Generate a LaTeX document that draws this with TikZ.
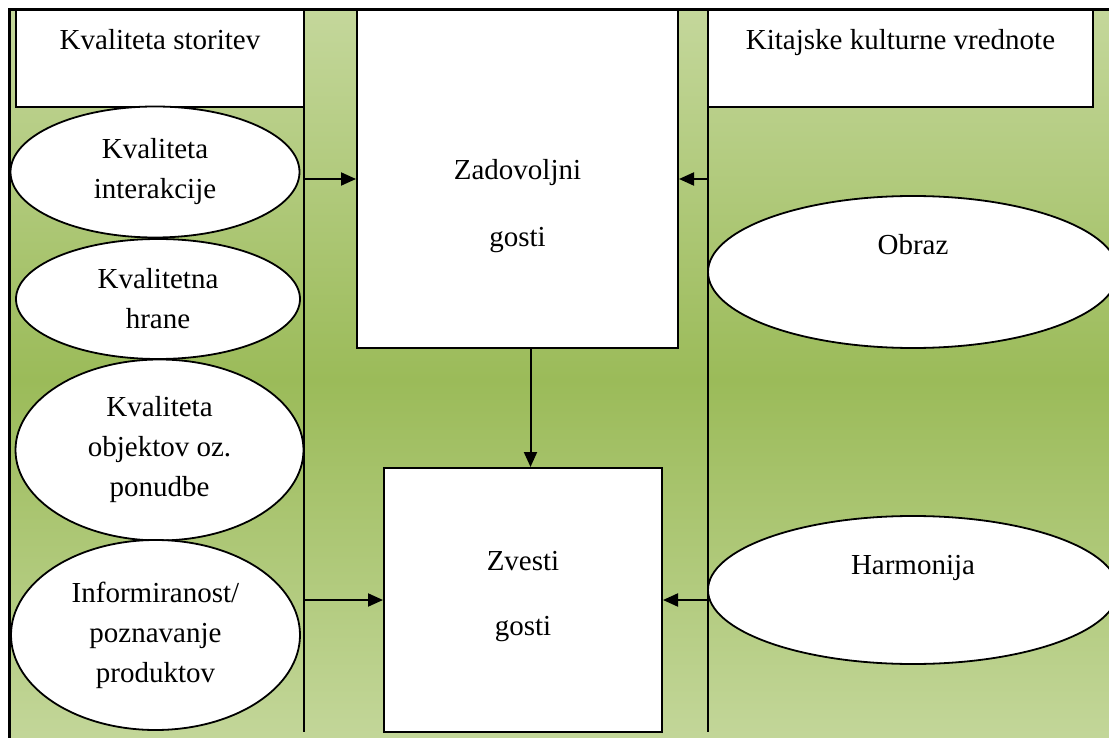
\documentclass[tikz,border=0pt]{standalone}
\usepackage{fontspec}
\setmainfont{Liberation Serif}
\usetikzlibrary{shapes.geometric,arrows.meta}
\definecolor{olivelight}{RGB}{196,215,155}
\definecolor{olivedark}{RGB}{155,187,89}
\begin{document}
\begin{tikzpicture}[x=1pt,y=-1pt,
	every node/.style={font=\fontsize{29}{40}\selectfont, align=center},
	kasten/.style={draw, fill=white, line width=2pt, rectangle, inner sep=0pt},
	oval/.style={draw, fill=white, line width=1.8pt, ellipse, inner sep=0pt},
	pfeil/.style={line width=2pt, -{Triangle[length=15pt,width=13pt]}}]
		\useasboundingbox (0,0) rectangle (1109,738);
		\clip (0,0) rectangle (1109,738);
		
		\draw[line width=3pt, top color=olivelight, bottom color=olivelight, middle color=olivedark] (9,10) rectangle (1120,750);
		
		\coordinate (ltop) at (304,10); \coordinate (lbot) at (304,732);
		\coordinate (rtop) at (708,10); \coordinate (rbot) at (708,732);
		\draw[line width=2pt] (ltop) -- (lbot);
		\draw[line width=2pt] (rtop) -- (rbot);
		
		\node[kasten, minimum width=288pt, minimum height=97pt, text height=20pt, text depth=37pt] (stor) at (160,58.5) {Kvaliteta storitev};
		\node[kasten, minimum width=385pt, minimum height=97pt, text height=20pt, text depth=37pt] (kit) at (900.5,58.5) {Kitajske kulturne vrednote};
		\node[kasten, minimum width=321pt, minimum height=338pt, text height=136pt, text depth=0pt] (zad) at (517.5,179) {Zadovoljni\\[27pt]gosti};
		\node[kasten, minimum width=278pt, minimum height=264pt, text height=76pt, text depth=6pt] (zve) at (523,600) {Zvesti\\[25pt]gosti};
		
		\node[oval, minimum width=289pt, minimum height=131pt] (inter) at (155,172) {Kvaliteta\\interakcije};
		\node[oval, minimum width=284pt, minimum height=120pt] (hrana) at (158,299) {Kvalitetna\\hrane};
		\node[oval, minimum width=288pt, minimum height=181pt] (objekt) at (159.5,450) {Kvaliteta\\objektov oz.\\ponudbe};
		\node[oval, minimum width=289pt, minimum height=190pt] (info) at (155.5,635) {Informiranost/\\poznavanje\\produktov};
		
		\node[oval, minimum width=410pt, minimum height=152pt, text height=20pt, text depth=54pt] (obraz) at (913,272) {Obraz};
		\node[oval, minimum width=410pt, minimum height=148pt, text height=20pt, text depth=52pt] (harm) at (913,590) {Harmonija};
		
		\draw[pfeil] (ltop |- zad.west) -- (zad.west);
		\draw[pfeil] (rtop |- zad.east) -- (zad.east);
		\draw[pfeil] ([xshift=13pt]zad.south) -- ([xshift=13pt]zad.south |- zve.north);
		\draw[pfeil] (ltop |- zve.west) -- (zve.west);
		\draw[pfeil] (rtop |- zve.east) -- (zve.east);
		
\end{tikzpicture}
\end{document}
